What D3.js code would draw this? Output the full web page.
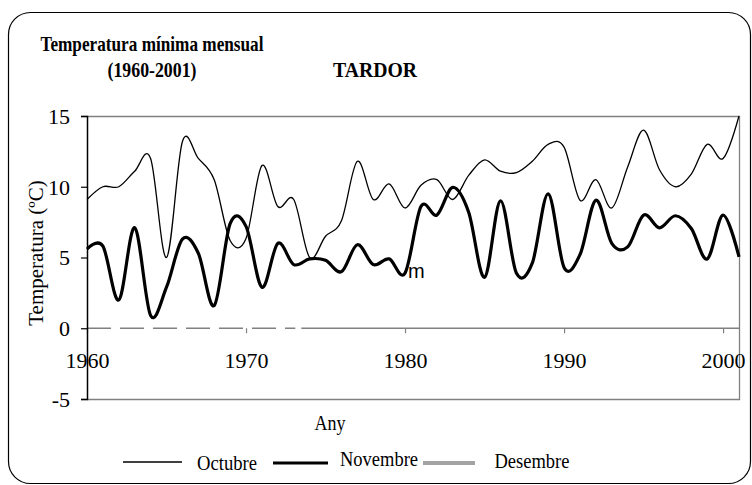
<!DOCTYPE html>
<html>
<head>
<meta charset="utf-8">
<script src="https://cdn.jsdelivr.net/npm/d3@7/dist/d3.min.js"></script>
<style>
  body { margin: 0; background: #fff; }
  svg { display: block; }
  text { font-family: "Liberation Serif", "Times New Roman", serif; fill: #000; }
</style>
</head>
<body>
<div id="chart"></div>
<script>
// Temperatura minima mensual, tardor (octubre, novembre), 1960-2001
const years = [1960, 1961, 1962, 1963, 1964, 1965, 1966, 1967, 1968, 1969,
               1970, 1971, 1972, 1973, 1974, 1975, 1976, 1977, 1978, 1979,
               1980, 1981, 1982, 1983, 1984, 1985, 1986, 1987, 1988, 1989,
               1990, 1991, 1992, 1993, 1994, 1995, 1996, 1997, 1998, 1999,
               2000, 2001];

const octubre = [9.1, 10.0, 10.0, 11.1, 12.0, 5.0, 13.2, 12.0, 10.5, 6.2,
                 6.35, 11.5, 8.6, 9.1, 5.0, 6.5, 7.6, 11.8, 9.1, 10.2,
                 8.5, 10.1, 10.5, 9.1, 10.8, 11.9, 11.1, 11.0, 11.8, 13.0,
                 12.8, 9.05, 10.5, 8.5, 11.4, 14.0, 11.2, 10.0, 10.9, 13.0,
                 12.0, 15.0];

const novembre = [5.6, 5.8, 2.0, 7.1, 0.9, 2.9, 6.3, 5.3, 1.6, 7.4,
                  7.2, 2.9, 6.0, 4.5, 4.9, 4.8, 4.0, 5.9, 4.5, 4.9,
                  3.9, 8.6, 8.0, 9.95, 8.2, 3.6, 9.0, 3.9, 4.6, 9.5,
                  4.3, 5.2, 9.05, 6.0, 5.75, 8.0, 7.1, 7.95, 7.05, 4.9,
                  8.0, 5.05];

const yTicks = [-5, 0, 5, 10, 15];
const xTicks = [1960, 1970, 1980, 1990, 2000];
const seriesNames = ["Octubre", "Novembre", "Desembre"];

const width = 752, height = 485;
const plot = { left: 87, right: 739, top: 116, bottom: 399 };

const svg = d3.select("#chart").append("svg")
  .attr("width", width)
  .attr("height", height);

// outer rounded frame
svg.append("rect")
  .attr("x", 8.5).attr("y", 12.5)
  .attr("width", 742).attr("height", 471)
  .attr("rx", 22).attr("ry", 22)
  .attr("fill", "#fff")
  .attr("stroke", "#000")
  .attr("stroke-width", 1.2);

const x = d3.scaleLinear().domain([1960, 2001]).range([plot.left, plot.right]);
const y = d3.scaleLinear().domain([-5, 15]).range([plot.bottom, plot.top]);

// condensed text helper (the original type is narrow)
function label(txt, cx, base, size, w, bold) {
  return svg.append("text")
    .attr("x", cx - w / 2)
    .attr("y", base)
    .attr("font-size", size)
    .attr("font-weight", bold ? "bold" : "normal")
    .attr("textLength", w)
    .attr("lengthAdjust", "spacingAndGlyphs")
    .text(txt);
}

// titles
label("Temperatura mínima mensual", 152, 51, 22, 223, true);
label("(1960-2001)", 152, 77, 22, 89, true);
label("TARDOR", 375, 77, 22, 84, true);

// plot frame (grey top / right / bottom)
svg.append("path")
  .attr("d", `M${plot.left},${plot.top + 0.5} H${plot.right + 0.5} V${plot.bottom + 0.5} H${plot.left}`)
  .attr("fill", "none")
  .attr("stroke", "#808080")
  .attr("stroke-width", 1.3);

// zero line: dashed first, solid afterwards
const breakYear = 1973.1;
svg.append("line")
  .attr("x1", x(1960)).attr("x2", x(breakYear))
  .attr("y1", y(0)).attr("y2", y(0))
  .attr("stroke", "#808080").attr("stroke-width", 1.3)
  .attr("stroke-dasharray", "24,9");
svg.append("line")
  .attr("x1", x(breakYear) + 6).attr("x2", x(2001))
  .attr("y1", y(0)).attr("y2", y(0))
  .attr("stroke", "#808080").attr("stroke-width", 1.3);

// x ticks on the zero line
const xAxis = svg.append("g")
  .attr("transform", `translate(0,${y(0)})`)
  .call(d3.axisBottom(x).tickValues(xTicks).tickSize(5).tickFormat(d => String(d)));
xAxis.select(".domain").remove();
xAxis.selectAll(".tick line").attr("stroke", "#808080").attr("stroke-width", 1.2);
xAxis.selectAll(".tick text")
  .style("font-family", "'Liberation Serif', serif")
  .style("font-size", "22px")
  .attr("y", 368 - y(0))
  .attr("dy", 0)
  .attr("fill", "#000");

// y axis
const yAxis = svg.append("g")
  .attr("transform", `translate(${plot.left},0)`)
  .call(d3.axisLeft(y).tickValues(yTicks).tickSize(6).tickPadding(11).tickFormat(d => String(d)));
yAxis.select(".domain").attr("stroke", "#000").attr("stroke-width", 1.5);
yAxis.selectAll(".tick line").attr("stroke", "#000").attr("stroke-width", 1.2);
yAxis.selectAll(".tick text")
  .style("font-family", "'Liberation Serif', serif")
  .style("font-size", "22px")
  .attr("dy", "0.34em")
  .attr("fill", "#000");

svg.append("text")
  .attr("transform", `translate(43,253) rotate(-90)`)
  .attr("text-anchor", "middle")
  .attr("font-size", 21)
  .text("Temperatura (ºC)");

// series
const line = d3.line()
  .x((d, i) => x(years[i]))
  .y(d => y(d))
  .curve(d3.curveCatmullRom.alpha(0));

svg.append("path")
  .datum(octubre)
  .attr("d", line)
  .attr("fill", "none")
  .attr("stroke", "#000")
  .attr("stroke-width", 1.3)
  .attr("stroke-linejoin", "round");

svg.append("path")
  .datum(novembre)
  .attr("d", line)
  .attr("fill", "none")
  .attr("stroke", "#000")
  .attr("stroke-width", 3.2)
  .attr("stroke-linejoin", "round");

// stray glyph present in the original
svg.append("text")
  .attr("x", 408).attr("y", 278)
  .style("font-family", "'Liberation Sans', Arial, sans-serif")
  .style("font-size", "20px")
  .text("m");

// axis title
label("Any", 330, 430, 22, 31, false);

// legend
const legendItems = [
  { name: seriesNames[0], x1: 123, x2: 182, ly: 462, sw: 1.3, color: "#000", tx: 227, tw: 60, tb: 470 },
  { name: seriesNames[1], x1: 273, x2: 328, ly: 463, sw: 3.2, color: "#000", tx: 379, tw: 78, tb: 466 },
  { name: seriesNames[2], x1: 423, x2: 475, ly: 463, sw: 4, color: "#a3a3a3", tx: 532, tw: 75, tb: 468 }
];
legendItems.forEach(d => {
  svg.append("line")
    .attr("x1", d.x1).attr("x2", d.x2)
    .attr("y1", d.ly).attr("y2", d.ly)
    .attr("stroke", d.color)
    .attr("stroke-width", d.sw);
  label(d.name, d.tx, d.tb, 22, d.tw, false);
});
</script>
</body>
</html>
